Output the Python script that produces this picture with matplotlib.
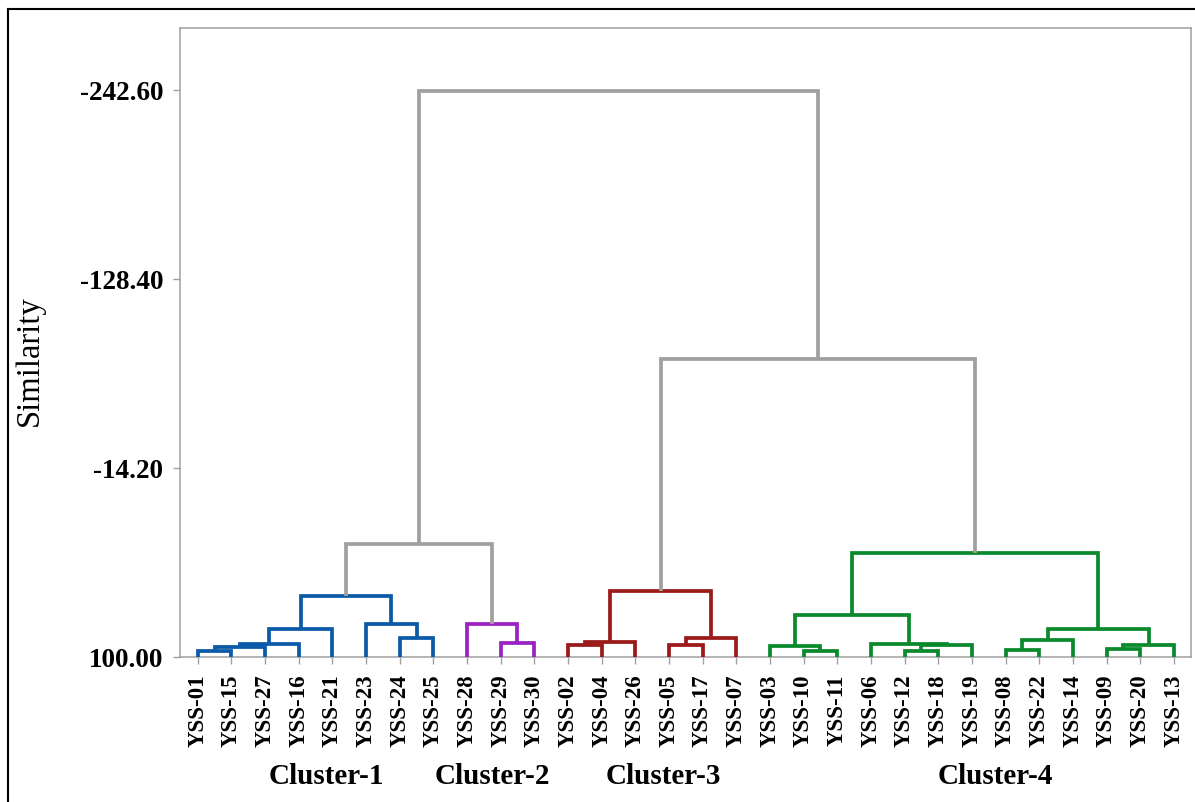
import matplotlib
matplotlib.use("Agg")
import matplotlib.pyplot as plt
from matplotlib.lines import Line2D

# Leaf order along the x axis
leaves = ["YSS-01", "YSS-15", "YSS-27", "YSS-16", "YSS-21", "YSS-23", "YSS-24", "YSS-25",
          "YSS-28", "YSS-29", "YSS-30",
          "YSS-02", "YSS-04", "YSS-26", "YSS-05", "YSS-17", "YSS-07",
          "YSS-03", "YSS-10", "YSS-11", "YSS-06", "YSS-12", "YSS-18", "YSS-19",
          "YSS-08", "YSS-22", "YSS-14", "YSS-09", "YSS-20", "YSS-13"]

# Agglomeration steps: children are leaf names or "m<k>" for the k-th merge
merge_left = ["YSS-01", "m0", "m1", "m2", "YSS-24", "YSS-23", "m3",
              "YSS-29", "YSS-28",
              "YSS-02", "m9", "YSS-05", "m11", "m10",
              "YSS-10", "YSS-03", "YSS-12", "m16", "YSS-06", "m15",
              "YSS-08", "m20", "YSS-09", "m22", "m21", "m19",
              "m6", "m13", "m26"]
merge_right = ["YSS-15", "YSS-27", "YSS-16", "YSS-21", "YSS-25", "m4", "m5",
               "YSS-30", "m7",
               "YSS-04", "YSS-26", "YSS-17", "YSS-07", "m12",
               "YSS-11", "m14", "YSS-18", "YSS-19", "m17", "m18",
               "YSS-22", "YSS-14", "YSS-20", "YSS-13", "m23", "m24",
               "m8", "m25", "m27"]
merge_similarity = [96.2, 94.0, 92.0, 82.9, 88.4, 79.9, 63.2,
                    91.4, 80.0,
                    92.6, 90.9, 92.6, 88.5, 60.4,
                    96.4, 93.4, 96.4, 92.8, 92.0, 74.9,
                    96.0, 89.6, 95.0, 93.0, 83.3, 37.2,
                    31.6, -80.1, -242.0]

# Final clusters
cluster_names = ["Cluster-1", "Cluster-2", "Cluster-3", "Cluster-4"]
cluster_members = [leaves[0:8], leaves[8:11], leaves[11:17], leaves[17:30]]
cluster_colors = ["#0B5AA8", "#9A22C4", "#9B1A1A", "#0A8A2C"]
link_color = "#A0A0A0"

y_ticks = [100.00, -14.20, -128.40, -242.60]

serif = ["Liberation Serif", "DejaVu Serif"]

fig = plt.figure(figsize=(11.95, 8.03), dpi=100)
W, H = 1195, 803
ax = fig.add_axes([180 / W, 1 - 658 / H, (1190.7 - 180) / W, (658 - 29) / H])

# Position and height of every node
pos = {name: float(i) for i, name in enumerate(leaves)}
height = {name: 100.0 for name in leaves}
members = {name: {name} for name in leaves}
for k, (a, b, s) in enumerate(zip(merge_left, merge_right, merge_similarity)):
    node = f"m{k}"
    members[node] = members[a] | members[b]
    color = link_color
    for c, mem in zip(cluster_colors, cluster_members):
        if members[node] <= set(mem):
            color = c
    ax.plot([pos[a], pos[a], pos[b], pos[b]],
            [height[a], s, s, height[b]],
            color=color, lw=2.7, solid_joinstyle="miter", solid_capstyle="butt",
            zorder=3)
    pos[node] = (pos[a] + pos[b]) / 2
    height[node] = s

ax.set_xlim(-0.526, 29.5)
ax.set_ylim(100, -280)

ax.set_xticks(range(len(leaves)))
ax.set_xticklabels(leaves, rotation=90, fontsize=16.5, fontweight="bold", family=serif)
ax.set_yticks(y_ticks)
ax.set_yticklabels([f"{v:.2f}" for v in y_ticks], fontsize=19.5, fontweight="bold",
                   family=serif)
ax.tick_params(axis="x", length=5, width=1, color=link_color, pad=7)
ax.tick_params(axis="y", length=5, width=1, color=link_color, pad=7)
for sp in ax.spines.values():
    sp.set_color(link_color)
    sp.set_linewidth(1.1)

fig.text(30 / W, 1 - 361 / H, "Similarity", rotation=90, fontsize=23.5,
         family=serif, ha="center", va="center")

# Cluster captions under the leaf labels
caption_x = [3.81, 8.76, 13.83, 23.69]
for name, cx in zip(cluster_names, caption_x):
    ax.text(cx, -0.189, name, transform=ax.get_xaxis_transform(),
            fontsize=21, fontweight="bold", family=serif,
            ha="center", va="center")

# Outer border
fig.add_artist(Line2D([8 / W, 1.0], [1 - 10 / H, 1 - 10 / H], color="black", lw=1.5,
                      transform=fig.transFigure))
fig.add_artist(Line2D([8 / W, 8 / W], [0.0, 1 - 10 / H], color="black", lw=1.5,
                      transform=fig.transFigure))

fig.savefig("out.png", dpi=100)
